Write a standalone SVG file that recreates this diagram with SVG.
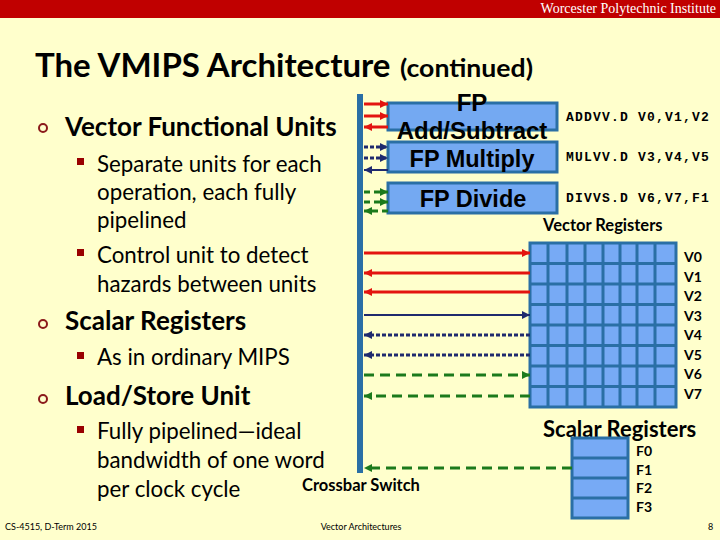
<svg xmlns="http://www.w3.org/2000/svg" width="720" height="540" viewBox="0 0 720 540">
<defs>
<style>
.t{font-family:Lato,"Open Sans",sans-serif;fill:#000}
.h1{font-weight:bold;font-size:26px}
.h2{font-size:22.3px}
.bc{fill:none;stroke:#8B1A1A;stroke-width:2}
.bs{fill:#990000}
.fu{fill:#74A9F2;stroke:#2A6FA5;stroke-width:3}
.fut{font-family:"Liberation Sans",Arial,sans-serif;font-weight:bold;font-size:23.5px;text-anchor:middle;fill:#000}
.code{font-family:"Liberation Mono","Courier New",monospace;font-weight:bold;font-size:13px;letter-spacing:1.2px;fill:#000}
.lbl{font-family:Lato,"Open Sans",sans-serif;font-weight:bold;fill:#000}
.cell{fill:#77AAF5}
.gl{stroke:#2A6FA5;stroke-width:3;fill:none}
.red{stroke:#E3140F;stroke-width:3;fill:none}
.nav{stroke:#1F2A6E;stroke-width:2;fill:none}
.navd{stroke:#1F2A6E;stroke-width:3;stroke-dasharray:4 2;fill:none}
.grn{stroke:#1C7A1C;stroke-width:3;stroke-dasharray:10 6;fill:none}
.grns{stroke:#1C7A1C;stroke-width:3;stroke-dasharray:6 4;fill:none}
</style>
<marker id="mr" markerUnits="userSpaceOnUse" markerWidth="10" markerHeight="10" refX="8" refY="4" orient="auto"><path d="M0,0 L8,4 L0,8 z" fill="#E3140F"/></marker>
<marker id="mn" markerUnits="userSpaceOnUse" markerWidth="10" markerHeight="10" refX="8" refY="4" orient="auto"><path d="M0,0 L8,4 L0,8 z" fill="#1F2A6E"/></marker>
<marker id="mg" markerUnits="userSpaceOnUse" markerWidth="10" markerHeight="10" refX="8" refY="4" orient="auto"><path d="M0,0 L8,4 L0,8 z" fill="#1C7A1C"/></marker>
</defs>
<rect x="0" y="0" width="720" height="540" fill="#FFFFCC"/>
<rect x="0" y="0" width="720" height="18" fill="#C00000"/>
<text x="716" y="13" text-anchor="end" font-family="'Liberation Serif','Times New Roman',serif" font-size="14" fill="#FFFFFF">Worcester Polytechnic Institute</text>

<g id="title">
<text x="35" y="77" class="t" font-size="33" font-weight="bold">The VMIPS Architecture</text>
<text x="400" y="77" class="t" font-size="24" font-weight="bold" textLength="133" lengthAdjust="spacingAndGlyphs">(continued)</text>
</g>

<g id="bullets">
<circle cx="43" cy="128" r="4" class="bc"/>
<text x="65" y="136" class="t h1">Vector Functional Units</text>
<rect x="77" y="158" width="7" height="7" class="bs"/>
<text x="97" y="172" class="t h2">Separate units for each</text>
<text x="97" y="200" class="t h2">operation, each fully</text>
<text x="97" y="228" class="t h2">pipelined</text>
<rect x="77" y="249" width="7" height="7" class="bs"/>
<text x="97" y="263" class="t h2">Control unit to detect</text>
<text x="97" y="292" class="t h2">hazards between units</text>
<circle cx="43" cy="324" r="4" class="bc"/>
<text x="65" y="330" class="t h1">Scalar Registers</text>
<rect x="77" y="352" width="7" height="7" class="bs"/>
<text x="97" y="365" class="t h2">As in ordinary MIPS</text>
<circle cx="43" cy="399" r="4" class="bc"/>
<text x="65" y="405" class="t h1">Load/Store Unit</text>
<rect x="77" y="426" width="7" height="7" class="bs"/>
<text x="97" y="439" class="t h2">Fully pipelined—ideal</text>
<text x="97" y="468" class="t h2">bandwidth of one word</text>
<text x="97" y="497" class="t h2">per clock cycle</text>
</g>

<g id="crossbar">
<rect x="357" y="94" width="6" height="379" fill="#2A6FA5"/>
<text x="302" y="491" class="lbl" style="font-size:16.5px">Crossbar Switch</text>
</g>

<g id="fp-add">
<rect x="388" y="103" width="169" height="27" class="fu"/>
<text x="472" y="111" class="fut" style="font-size:24px">FP</text>
<text x="472" y="139" class="fut" style="font-size:24px">Add/Subtract</text>
</g>
<g id="fp-mul">
<rect x="388" y="142" width="169" height="30" class="fu"/>
<text x="472" y="167" class="fut">FP Multiply</text>
</g>
<g id="fp-div">
<rect x="388" y="183" width="169" height="30" class="fu"/>
<text x="473" y="207" class="fut">FP Divide</text>
</g>

<g id="instructions">
<text x="566" y="121" class="code">ADDVV.D V0,V1,V2</text>
<text x="566" y="161" class="code">MULVV.D V3,V4,V5</text>
<text x="566" y="202" class="code">DIVVS.D V6,V7,F1</text>
</g>

<g id="vector-registers">
<text x="543" y="231" class="lbl" style="font-size:16.5px">Vector Registers</text>
<rect x="530" y="243" width="146" height="164" class="cell"/>
<path class="gl" d="M548,243V407M567,243V407M585,243V407M603,243V407M620,243V407M637,243V407M655,243V407M530,263.5H676M530,284H676M530,304.5H676M530,325H676M530,345.5H676M530,366H676M530,386.5H676"/>
<rect x="530" y="243" width="146" height="164" class="gl"/>
<g style="font-size:14px">
<text x="684" y="262" class="lbl">V0</text>
<text x="684" y="282" class="lbl">V1</text>
<text x="684" y="301" class="lbl">V2</text>
<text x="684" y="321" class="lbl">V3</text>
<text x="684" y="340" class="lbl">V4</text>
<text x="684" y="360" class="lbl">V5</text>
<text x="684" y="379" class="lbl">V6</text>
<text x="684" y="399" class="lbl">V7</text>
</g>
</g>

<g id="scalar-registers">
<text x="543" y="437" class="lbl" style="font-size:22px">Scalar Registers</text>
<rect x="572" y="438" width="56" height="80" class="cell"/>
<path class="gl" d="M572,458H628M572,478H628M572,498H628"/>
<rect x="572" y="438" width="56" height="80" class="gl"/>
<g style="font-size:14px">
<text x="636" y="456" class="lbl">F0</text>
<text x="636" y="475" class="lbl">F1</text>
<text x="636" y="493" class="lbl">F2</text>
<text x="636" y="512" class="lbl">F3</text>
</g>
</g>

<g id="connectors">
<line x1="364" y1="104" x2="388" y2="104" class="red" marker-end="url(#mr)"/>
<line x1="364" y1="116" x2="388" y2="116" class="red" marker-end="url(#mr)"/>
<line x1="388" y1="127" x2="364" y2="127" class="red" marker-end="url(#mr)"/>
<line x1="364" y1="147" x2="388" y2="147" class="navd" marker-end="url(#mn)"/>
<line x1="364" y1="158" x2="388" y2="158" class="navd" marker-end="url(#mn)"/>
<line x1="388" y1="170" x2="364" y2="170" class="nav" marker-end="url(#mn)"/>
<line x1="364" y1="192" x2="388" y2="192" class="grns" marker-end="url(#mg)"/>
<line x1="364" y1="202" x2="388" y2="202" class="grns" marker-end="url(#mg)"/>
<line x1="388" y1="211" x2="364" y2="211" class="grns" marker-end="url(#mg)"/>
<line x1="364" y1="253" x2="530" y2="253" class="red" marker-end="url(#mr)"/>
<line x1="530" y1="273" x2="364" y2="273" class="red" marker-end="url(#mr)"/>
<line x1="530" y1="292" x2="364" y2="292" class="red" marker-end="url(#mr)"/>
<line x1="364" y1="315" x2="530" y2="315" class="nav" marker-end="url(#mn)"/>
<line x1="530" y1="335" x2="364" y2="335" class="navd" marker-end="url(#mn)"/>
<line x1="530" y1="355" x2="364" y2="355" class="navd" marker-end="url(#mn)"/>
<line x1="364" y1="375" x2="530" y2="375" class="grn" marker-end="url(#mg)"/>
<line x1="530" y1="396" x2="364" y2="396" class="grn" marker-end="url(#mg)"/>
<line x1="572" y1="468" x2="364" y2="468" class="grn" marker-end="url(#mg)"/>
</g>

<g id="footer">
<text x="5" y="530" font-family="Lato,'Open Sans',sans-serif" font-size="9" fill="#000">CS-4515, D-Term 2015</text>
<text x="361" y="530" text-anchor="middle" font-family="Lato,'Open Sans',sans-serif" font-size="9" fill="#000">Vector Architectures</text>
<text x="708" y="530" font-family="Lato,'Open Sans',sans-serif" font-size="9" fill="#000">8</text>
</g>
</svg>
